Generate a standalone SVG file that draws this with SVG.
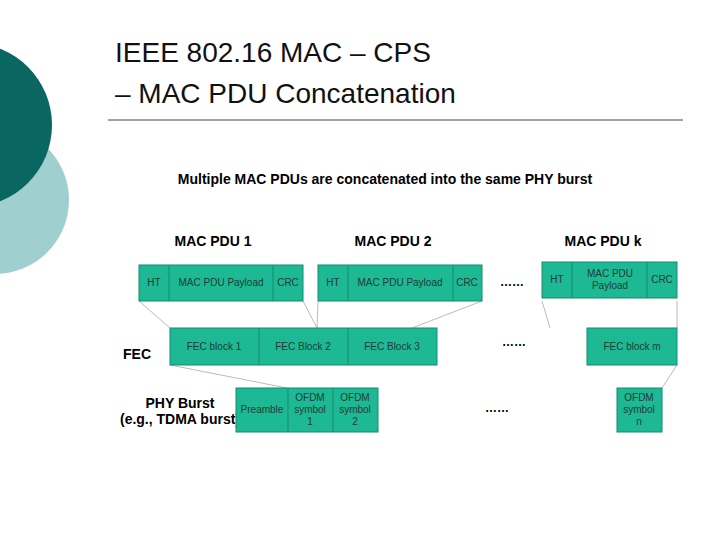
<svg xmlns="http://www.w3.org/2000/svg" width="720" height="540" viewBox="0 0 720 540">
<style>
.b{fill:#1db894;stroke:#158c70;stroke-width:1}
.t{font-family:"Liberation Sans",Arial,sans-serif;font-size:10px;fill:#1f3b33;text-anchor:middle}
.h{font-family:"Liberation Sans",Arial,sans-serif;font-weight:bold;font-size:14px;fill:#000}
.g{stroke:#bbbbbb;stroke-width:1;fill:none}
.d{font-family:"Liberation Sans",Arial,sans-serif;font-size:12px;fill:#000;text-anchor:middle;font-weight:bold}
</style>
<rect width="720" height="540" fill="#fff"/>
<g id="deco">
<circle cx="-5" cy="200" r="74" fill="#9fcfcf"/>
<circle cx="-30" cy="125" r="82" fill="#0a6660"/>
</g>
<g id="title" font-family="Liberation Sans,Arial,sans-serif" font-size="28" fill="#111">
<text x="115" y="62">IEEE 802.16 MAC – CPS</text>
<text x="115" y="103">– MAC PDU Concatenation</text>
</g>
<line x1="108" y1="120" x2="683" y2="120" stroke="#444" stroke-width="1"/>
<text class="h" x="385" y="184" text-anchor="middle" font-size="15">Multiple MAC PDUs are concatenated into the same PHY burst</text>
<text class="h" x="213" y="246" text-anchor="middle">MAC PDU 1</text>
<text class="h" x="393" y="246" text-anchor="middle">MAC PDU 2</text>
<text class="h" x="603" y="246" text-anchor="middle">MAC PDU k</text>
<text class="h" x="123" y="359" font-size="15">FEC</text>
<text class="h" x="180" y="408" text-anchor="middle" font-size="15">PHY Burst</text>
<text class="h" x="180" y="424" text-anchor="middle" font-size="12">(e.g., TDMA burst)</text>
<g id="connectors">
<line class="g" x1="139" y1="301" x2="170" y2="328"/>
<line class="g" x1="303" y1="301" x2="317" y2="328"/>
<line class="g" x1="318" y1="301" x2="317" y2="328"/>
<line class="g" x1="482" y1="301" x2="412" y2="328"/>
<line class="g" x1="542" y1="301" x2="550" y2="328"/>
<line class="g" x1="677" y1="301" x2="677" y2="328"/>
<line class="g" x1="170" y1="365" x2="287" y2="388"/>
<line class="g" x1="677" y1="365" x2="662" y2="388"/>
</g>
<g id="pdu1">
<rect class="b" x="139" y="265" width="164" height="36"/>
<line class="b" x1="169" y1="265" x2="169" y2="301"/><line class="b" x1="273" y1="265" x2="273" y2="301"/>
<text class="t" x="154" y="286">HT</text><text class="t" x="221" y="286">MAC PDU Payload</text><text class="t" x="288" y="286">CRC</text>
</g>
<g id="pdu2">
<rect class="b" x="318" y="265" width="164" height="36"/>
<line class="b" x1="348" y1="265" x2="348" y2="301"/><line class="b" x1="453" y1="265" x2="453" y2="301"/>
<text class="t" x="333" y="286">HT</text><text class="t" x="400" y="286">MAC PDU Payload</text><text class="t" x="467" y="286">CRC</text>
</g>
<g id="pduk">
<rect class="b" x="542" y="262" width="135" height="36"/>
<line class="b" x1="572" y1="262" x2="572" y2="298"/><line class="b" x1="647" y1="262" x2="647" y2="298"/>
<text class="t" x="557" y="283">HT</text><text class="t" x="610" y="277">MAC PDU</text><text class="t" x="610" y="289">Payload</text><text class="t" x="662" y="283">CRC</text>
</g>
<g id="fec">
<rect class="b" x="170" y="328" width="267" height="37"/>
<line class="b" x1="259" y1="328" x2="259" y2="365"/><line class="b" x1="348" y1="328" x2="348" y2="365"/>
<text class="t" x="214" y="350">FEC block 1</text><text class="t" x="303" y="350">FEC Block 2</text><text class="t" x="392" y="350">FEC Block 3</text>
</g>
<g id="fecm">
<rect class="b" x="587" y="328" width="90" height="37"/>
<text class="t" x="632" y="350">FEC block m</text>
</g>
<g id="phy">
<rect class="b" x="236" y="388" width="142" height="44"/>
<line class="b" x1="288" y1="388" x2="288" y2="432"/><line class="b" x1="333" y1="388" x2="333" y2="432"/>
<text class="t" x="262" y="413">Preamble</text>
<text class="t" x="310" y="401">OFDM</text><text class="t" x="310" y="413">symbol</text><text class="t" x="310" y="425">1</text>
<text class="t" x="355" y="401">OFDM</text><text class="t" x="355" y="413">symbol</text><text class="t" x="355" y="425">2</text>
</g>
<g id="phyn">
<rect class="b" x="617" y="388" width="45" height="44"/>
<text class="t" x="639" y="401">OFDM</text><text class="t" x="639" y="413">symbol</text><text class="t" x="639" y="425">n</text>
</g>
<text class="d" x="512" y="286">……</text>
<text class="d" x="514" y="346">……</text>
<text class="d" x="497" y="412">……</text>
</svg>
